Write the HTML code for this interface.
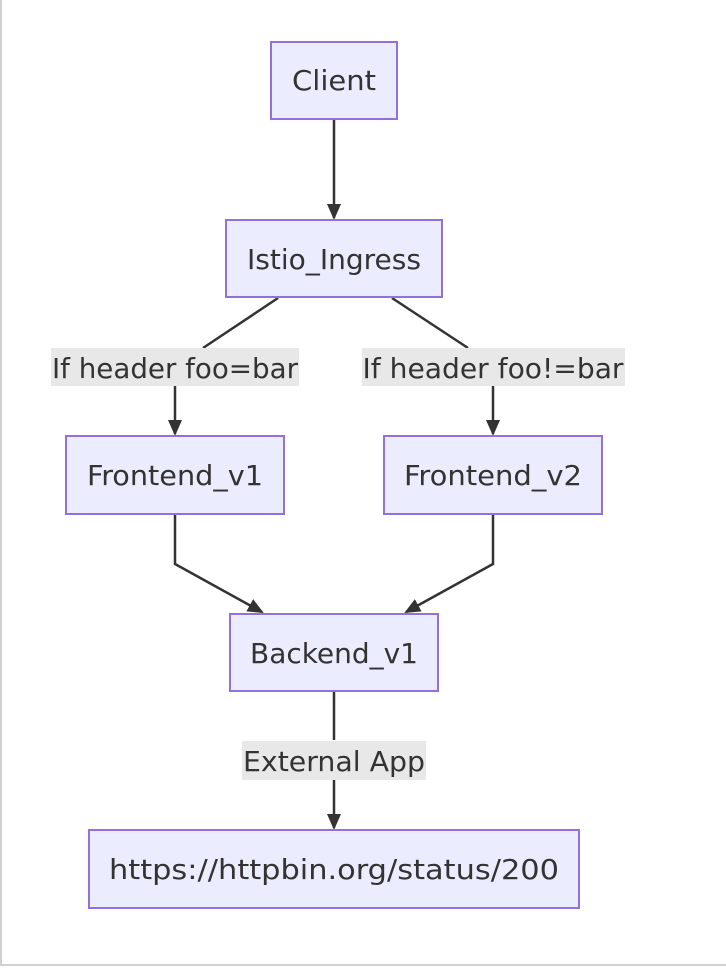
<!DOCTYPE html>
<html><head><meta charset="utf-8"><style>
html,body{margin:0;padding:0;background:#fff;}
svg{display:block;}
text{font-family:"DejaVu Sans Condensed","DejaVu Sans","Liberation Sans",sans-serif;font-stretch:condensed;font-size:28px;fill:#333;}
</style></head><body>
<svg width="726" height="970" viewBox="0 0 726 970" xmlns="http://www.w3.org/2000/svg">
<defs><marker id="a" markerWidth="16" markerHeight="16" refX="14" refY="8" orient="auto" markerUnits="userSpaceOnUse"><path d="M0,1 L16,8 L0,15 z" fill="#333"/></marker></defs>
<rect x="0" y="0" width="2" height="966" fill="#d0d0d0"/>
<rect x="0" y="964" width="726" height="2" fill="#d0d0d0"/>
<g stroke="#333" stroke-width="2.5" fill="none">
<path d="M334,120 L334,218" marker-end="url(#a)"/>
<path d="M278,298 L203,348"/>
<path d="M175,386 L175,434" marker-end="url(#a)"/>
<path d="M392,298 L468,348"/>
<path d="M493,386 L493,434" marker-end="url(#a)"/>
<path d="M175,514 L175,564 L262,612" marker-end="url(#a)"/>
<path d="M493,514 L493,564 L406,612" marker-end="url(#a)"/>
<path d="M334,691 L334,740"/>
<path d="M334,780 L334,828" marker-end="url(#a)"/>
</g>
<g fill="#ececff" stroke="#9370db" stroke-width="2">
<rect x="271" y="42" width="126" height="77"/>
<rect x="226" y="220" width="216" height="77"/>
<rect x="66" y="436" width="218" height="78"/>
<rect x="384" y="436" width="218" height="78"/>
<rect x="230" y="614" width="208" height="77"/>
<rect x="89" y="830" width="490" height="78"/>
</g>
<g fill="#e8e8e8">
<rect x="51" y="348" width="248" height="38"/>
<rect x="362" y="348" width="263" height="38"/>
<rect x="242" y="741" width="184" height="39"/>
</g>
<g text-anchor="middle">
<text x="334" y="90" textLength="84" lengthAdjust="spacingAndGlyphs">Client</text>
<text x="334" y="269" textLength="174" lengthAdjust="spacingAndGlyphs">Istio_Ingress</text>
<text x="175" y="485" textLength="176" lengthAdjust="spacingAndGlyphs">Frontend_v1</text>
<text x="493" y="485" textLength="178" lengthAdjust="spacingAndGlyphs">Frontend_v2</text>
<text x="334" y="663" textLength="168" lengthAdjust="spacingAndGlyphs">Backend_v1</text>
<text x="334" y="879" textLength="450" lengthAdjust="spacingAndGlyphs">https://httpbin.org/status/200</text>
<text x="175" y="378" textLength="246" lengthAdjust="spacingAndGlyphs">If header foo=bar</text>
<text x="493" y="378" textLength="261" lengthAdjust="spacingAndGlyphs">If header foo!=bar</text>
<text x="334" y="771" textLength="182" lengthAdjust="spacingAndGlyphs">External App</text>
</g>
</svg>
</body></html>
